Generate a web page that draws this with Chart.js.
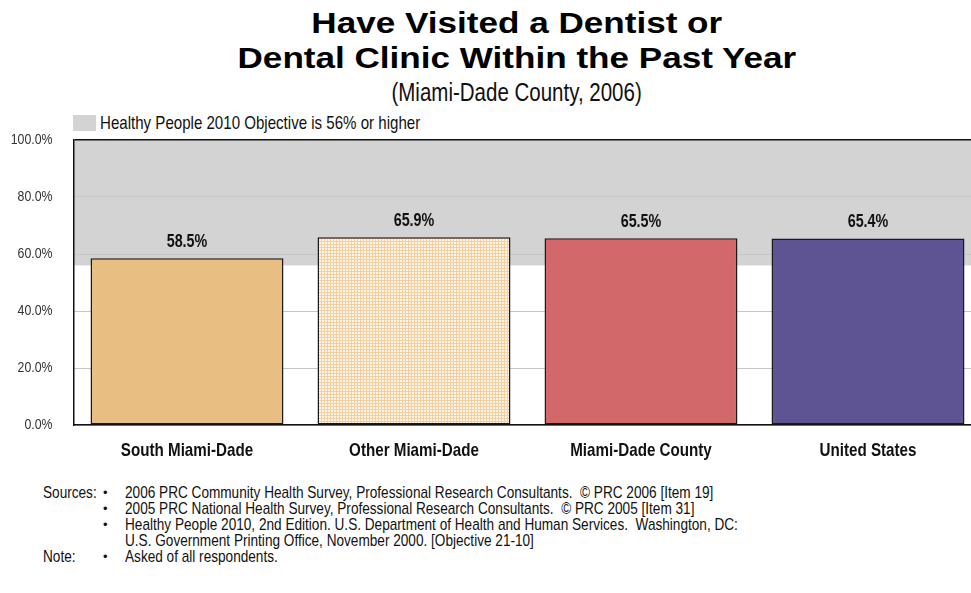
<!DOCTYPE html>
<html>
<head>
<meta charset="utf-8">
<script src="https://cdn.jsdelivr.net/npm/chart.js@4/dist/chart.umd.min.js"></script>
<style>
  html, body { margin: 0; padding: 0; background: #fff; overflow: hidden; width: 971px; height: 593px; }
  body { font-family: "Liberation Sans", Arial, sans-serif; color: #111; }
  /* Arial Narrow look: regular sans squeezed horizontally */
  .nw { display: inline-block; white-space: nowrap; transform: scaleX(0.82); }
  #title { position: absolute; left: 0; top: 6px; width: 1034px; text-align: center;
           font-weight: bold; font-size: 29px; line-height: 35px; color: #000; }
  #title span { display: inline-block; transform: scaleX(1.21); transform-origin: center; }
  #subtitle { position: absolute; left: 0; top: 78px; width: 1034px; text-align: center; font-size: 25px; line-height: 28px; }
  #subtitle .nw { transform-origin: center; }
  #legendBox { position: absolute; left: 73px; top: 115px; width: 23px; height: 16px; background: #d3d3d3; }
  #legendText { position: absolute; left: 100px; top: 112px; font-size: 18.4px; line-height: 22px; }
  #legendText .nw, #notes .nw { transform-origin: left center; }
  #wrap { position: absolute; left: 0; top: 100px; width: 990px; height: 370px; }
  #notes { position: absolute; left: 43px; top: 485px; font-size: 16.6px; line-height: 16px; }
  #notes .row { position: relative; height: 16px; white-space: nowrap; }
  #notes .lab { position: absolute; left: 0; }
  #notes .bul { position: absolute; left: 60px; font-size: 13px; }
  #notes .txt { position: absolute; left: 82px; }
</style>
</head>
<body>
<div id="title"><span>Have Visited a Dentist or</span><br><span>Dental Clinic Within the Past Year</span></div>
<div id="subtitle"><span class="nw">(Miami-Dade County, 2006)</span></div>
<div id="legendBox"></div>
<div id="legendText"><span class="nw">Healthy People 2010 Objective is 56% or higher</span></div>
<div id="wrap"><canvas id="chart"></canvas></div>
<div id="notes">
  <div class="row"><span class="lab nw">Sources:</span><span class="bul">•</span><span class="txt nw">2006 PRC Community Health Survey, Professional Research Consultants.&nbsp; © PRC 2006 [Item 19]</span></div>
  <div class="row"><span class="bul">•</span><span class="txt nw">2005 PRC National Health Survey, Professional Research Consultants.&nbsp; © PRC 2005 [Item 31]</span></div>
  <div class="row"><span class="bul">•</span><span class="txt nw">Healthy People 2010, 2nd Edition. U.S. Department of Health and Human Services.&nbsp; Washington, DC:</span></div>
  <div class="row"><span class="txt nw">U.S. Government Printing Office, November 2000. [Objective 21-10]</span></div>
  <div class="row"><span class="lab nw">Note:</span><span class="bul">•</span><span class="txt nw">Asked of all respondents.</span></div>
</div>
<script>
// chart data
const categories = ['South Miami-Dade', 'Other Miami-Dade', 'Miami-Dade County', 'United States'];
const visitedPct = [58.5, 65.9, 65.5, 65.4];
const objectiveRange = [56, 100];
const yTicks = [0, 20, 40, 60, 80, 100];

const SANS = '"Liberation Sans", Arial, sans-serif';
const SQUEEZE = 0.82;

// canvas text with the same narrow look as the html labels
function narrowText(ctx, text, x, y, align, font, color) {
    ctx.save();
    ctx.font = font;
    ctx.fillStyle = color;
    ctx.textAlign = align;
    ctx.textBaseline = 'middle';
    ctx.translate(x, y);
    ctx.scale(SQUEEZE, 1);
    ctx.fillText(text, 0, 0);
    ctx.restore();
}

// small checked tile for the "Other Miami-Dade" bar
function checkPattern() {
    const c = document.createElement('canvas');
    c.width = 3; c.height = 3;
    const g = c.getContext('2d');
    g.fillStyle = '#fff4e6';
    g.fillRect(0, 0, 3, 3);
    g.fillStyle = '#f4cf9f';
    g.fillRect(0, 0, 3, 1);
    g.fillRect(0, 0, 1, 3);
    return document.getElementById('chart').getContext('2d').createPattern(c, 'repeat');
}

const barColors = ['#e8be82', checkPattern(), '#d2686a', '#5e5393'];

// grey band for the objective range, under the grid
const objectiveBand = {
    id: 'objectiveBand',
    beforeDraw(chart) {
        const { ctx, chartArea, scales } = chart;
        const yTop = scales.y.getPixelForValue(objectiveRange[1]);
        const yBot = scales.y.getPixelForValue(objectiveRange[0]);
        ctx.save();
        ctx.fillStyle = '#d3d3d3';
        ctx.fillRect(chartArea.left, yTop, chartArea.right - chartArea.left, yBot - yTop);
        ctx.restore();
    }
};

// axis labels and bar values in the narrow face
const narrowLabels = {
    id: 'narrowLabels',
    afterDraw(chart) {
        const { ctx, scales } = chart;
        scales.y.ticks.forEach(t => {
            narrowText(ctx, t.value.toFixed(1) + '%', scales.y.right - 21,
                scales.y.getPixelForValue(t.value), 'right', '15px ' + SANS, '#333');
        });
        scales.x.ticks.forEach((t, i) => {
            narrowText(ctx, categories[i], scales.x.getPixelForTick(i),
                scales.x.top + 26, 'center', 'bold 18.5px ' + SANS, '#111');
        });
        chart.getDatasetMeta(0).data.forEach((bar, i) => {
            narrowText(ctx, visitedPct[i].toFixed(1) + '%', bar.x, bar.y - 16,
                'center', 'bold 17.5px ' + SANS, '#111');
        });
    }
};

new Chart(document.getElementById('chart'), {
    type: 'bar',
    data: {
        labels: categories,
        datasets: [{
            data: visitedPct,
            backgroundColor: barColors,
            borderColor: '#1a1a1a',
            borderWidth: 1.5,
            borderSkipped: false,
            barPercentage: 0.85,
            categoryPercentage: 1
        }]
    },
    options: {
        responsive: true,
        maintainAspectRatio: false,
        animation: false,
        layout: { padding: { top: 40, right: 8.5, left: 0, bottom: 0 } },
        plugins: {
            legend: { display: false },
            tooltip: { enabled: false }
        },
        scales: {
            x: {
                grid: { display: false, drawTicks: false },
                border: { display: true, color: '#111', width: 1.5 },
                ticks: { display: false },
                afterFit(scale) { scale.height = 45; }
            },
            y: {
                min: 0,
                max: 100,
                afterBuildTicks(scale) { scale.ticks = yTicks.map(v => ({ value: v })); },
                grid: {
                    drawTicks: false,
                    color: ctx => ctx.tick && ctx.tick.value === 100 ? '#111' : '#c6c6c6',
                    lineWidth: ctx => ctx.tick && ctx.tick.value === 100 ? 1.5 : 1
                },
                border: { display: true, color: '#111', width: 1.5 },
                ticks: { display: false },
                afterFit(scale) { scale.width = 73.5; }
            }
        }
    },
    plugins: [objectiveBand, narrowLabels]
});
</script>
</body>
</html>
